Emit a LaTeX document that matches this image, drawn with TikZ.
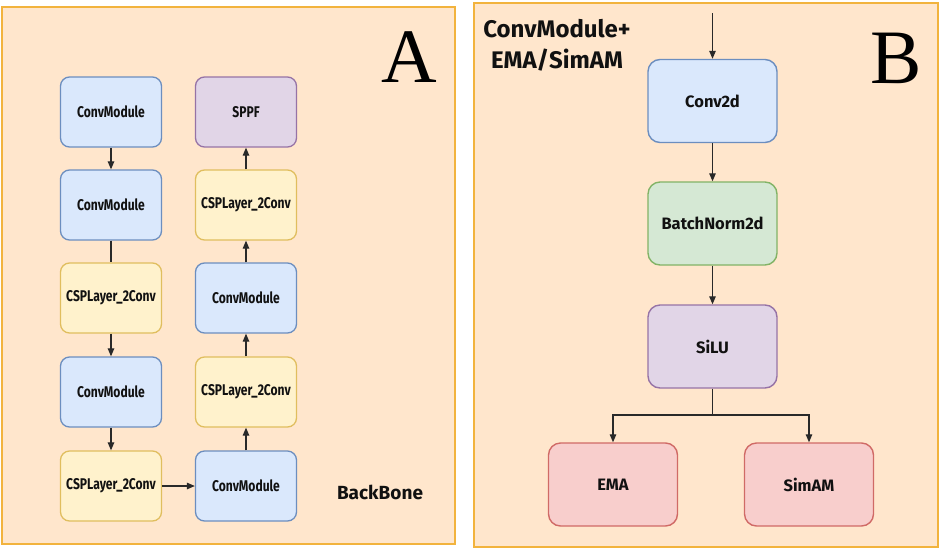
\documentclass[tikz,border=0pt]{standalone}
\usepackage{fontspec}
\setmainfont{Liberation Serif}
\newfontfamily\fira{Fira Sans}
\newfontfamily\firac[FakeStretch=0.78]{Fira Sans}
\usetikzlibrary{arrows.meta}
\definecolor{panelfill}{HTML}{FFE6CC}
\definecolor{paneldraw}{HTML}{F2B33D}
\definecolor{bluefill}{HTML}{DAE8FC}
\definecolor{bluedraw}{HTML}{6C8EBF}
\definecolor{yelfill}{HTML}{FFF2CC}
\definecolor{yeldraw}{HTML}{E0BE5E}
\definecolor{purfill}{HTML}{E1D5E7}
\definecolor{purdraw}{HTML}{9673A6}
\definecolor{grnfill}{HTML}{D5E8D4}
\definecolor{grndraw}{HTML}{82B366}
\definecolor{redfill}{HTML}{F8CECC}
\definecolor{reddraw}{HTML}{D06A66}
\definecolor{ink}{HTML}{111111}
\begin{document}
\begin{tikzpicture}[x=1pt,y=-1pt,
  panel/.style={fill=panelfill, draw=paneldraw, line width=2pt},
  abox/.style={line width=1.3pt, rounded corners=9pt, minimum width=101pt, minimum height=70pt, inner sep=0pt, text=ink, font=\firac\bfseries\fontsize{15.5}{18}\selectfont},
  bbox/.style={line width=1.4pt, rounded corners=12pt, minimum width=129pt, minimum height=83pt, inner sep=0pt, text=ink, font=\fira\bfseries\fontsize{16.5}{20}\selectfont},
  cblue/.style={fill=bluefill, draw=bluedraw},
  cyel/.style={fill=yelfill, draw=yeldraw},
  cpur/.style={fill=purfill, draw=purdraw},
  cgrn/.style={fill=grnfill, draw=grndraw},
  cred/.style={fill=redfill, draw=reddraw},
  arr/.style={-{Triangle[length=8pt,width=6.5pt]}, line width=1.2pt, draw=ink!90},
  plain/.style={line width=1.2pt, draw=ink!90},
  bigletter/.style={inner sep=0pt, font=\fontsize{77}{80}\selectfont},
  title/.style={inner sep=0pt, text=ink, font=\fira\bfseries\fontsize{19}{22}\selectfont}
]
\useasboundingbox (0,0) rectangle (941,549);
\fill[white] (0,0) rectangle (941,549);
% panels
\draw[panel] (2,7) rectangle (455,544);
\draw[panel] (474,3) rectangle (938,547);

% Panel A
\node[abox,cblue] (L1) at (111,112) {ConvModule};
\node[abox,cblue] (L2) at (111,205) {ConvModule};
\node[abox,cyel]  (L3) at (111,298) {CSPLayer\_2Conv};
\node[abox,cblue] (L4) at (111,392) {ConvModule};
\node[abox,cyel]  (L5) at (111,486) {CSPLayer\_2Conv};
\node[abox,cpur]  (R1) at (246,112) {SPPF};
\node[abox,cyel]  (R2) at (246,205) {CSPLayer\_2Conv};
\node[abox,cblue] (R3) at (246,298) {ConvModule};
\node[abox,cyel]  (R4) at (246,392) {CSPLayer\_2Conv};
\node[abox,cblue] (R5) at (246,486) {ConvModule};

\draw[arr] (L1) -- (L2);
\draw[plain] (L2) -- (L3);
\draw[arr] (L3) -- (L4);
\draw[arr] (L4) -- (L5);
\draw[arr] (L5) -- (R5);
\draw[arr] (R5) -- (R4);
\draw[arr] (R4) -- (R3);
\draw[arr] (R3) -- (R2);
\draw[arr] (R2) -- (R1);

\node[bigletter] (A) at (409,57.5) {A};
\node[title] (bb) at (380,492) {BackBone};

% Panel B
\node[inner sep=0pt, anchor=north, align=center, text=ink, font=\fira\bfseries\fontsize{24}{31}\selectfont] (tb) at (557,19) {ConvModule+\\EMA/SimAM};
\node[bigletter] (B) at (896,58) {B};

\coordinate (in) at (712.5,13);
\node[bbox,cblue] (conv) at (712.5,101) {Conv2d};
\node[bbox,cgrn]  (bn)   at (712.5,223.5) {BatchNorm2d};
\node[bbox,cpur]  (silu) at (712.5,346.5) {SiLU};
\node[bbox,cred]  (ema)  at (613,484.5) {EMA};
\node[bbox,cred]  (sim)  at (809,484.5) {SimAM};
\coordinate (split) at (712.5,415);

\draw[arr] (in) -- (conv);
\draw[arr] (conv) -- (bn);
\draw[arr] (bn) -- (silu);
\draw[plain] (silu) -- (split);
\draw[arr] (split) -| (ema.north);
\draw[arr] (split) -| (sim.north);
\end{tikzpicture}
\end{document}
